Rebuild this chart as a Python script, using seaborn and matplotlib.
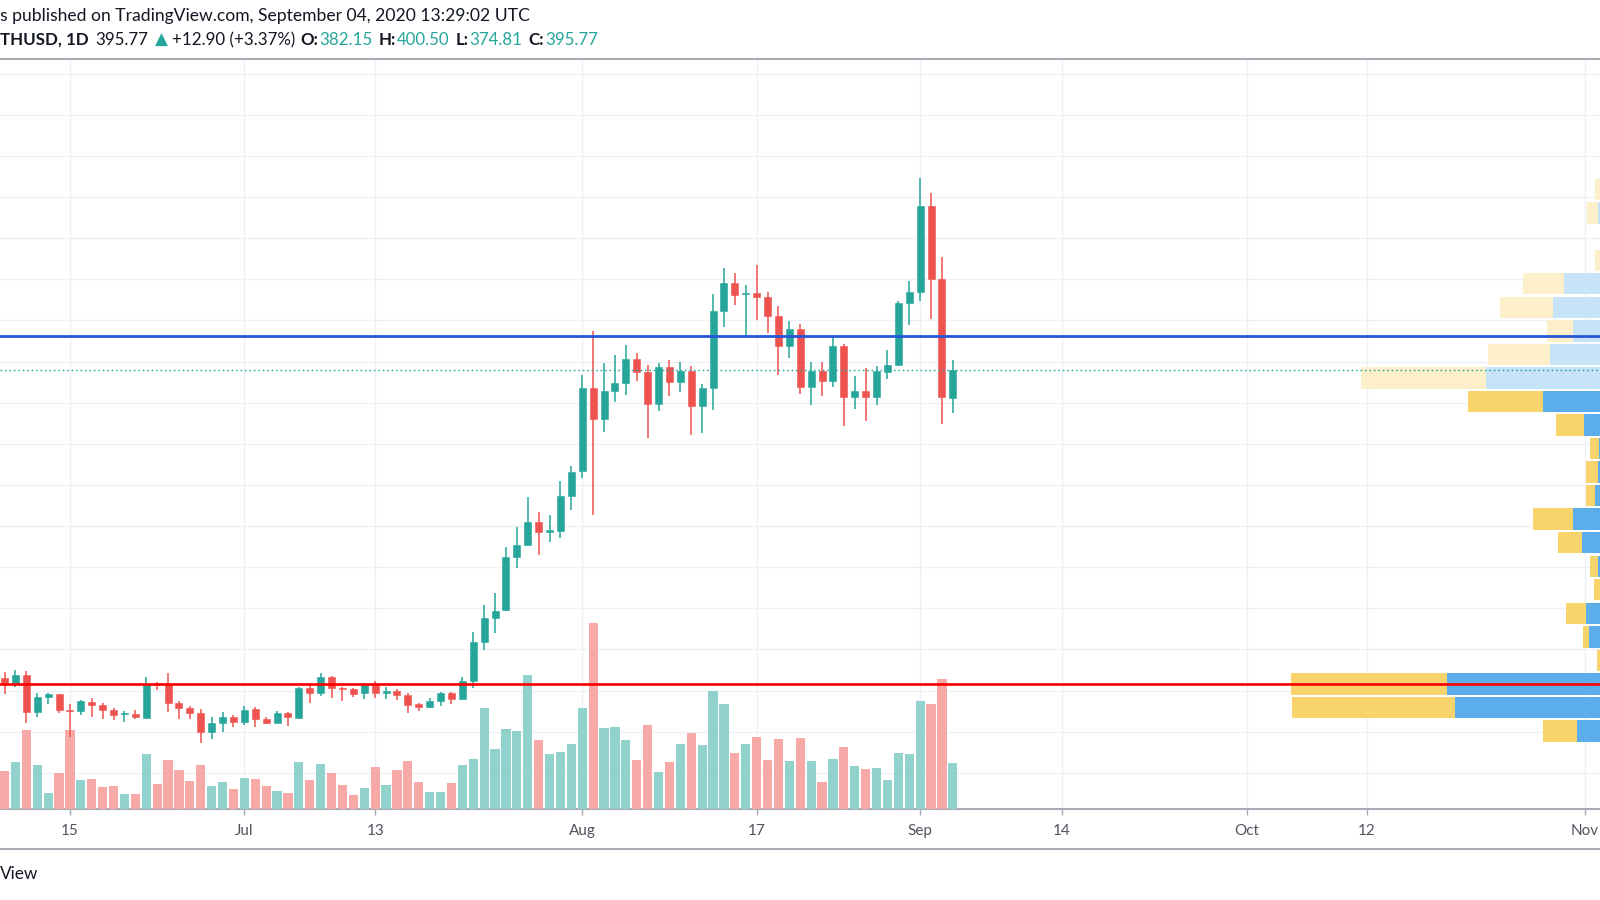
import numpy as np
import pandas as pd
import matplotlib
matplotlib.use("Agg")
import matplotlib.pyplot as plt
from matplotlib.lines import Line2D
import seaborn as sns

# ---------------- data ----------------
dates = pd.date_range("2020-06-09", "2020-09-04", freq="D")

opens = [245.9, 243.1, 247.8, 229.5, 237.0, 238.1, 230.3, 230.2, 234.6, 232.9, 230.5, 228.6, 228.6, 226.6, 243.5, 242.7, 234.1, 231.3, 229.2, 220.0, 224.3, 227.3,
         224.8, 230.8, 226.1, 224.3, 228.9, 226.8, 241.0, 238.6, 246.7, 241.4, 240.6, 238.6, 243.0, 238.6, 239.9, 237.8, 233.3, 231.8, 235.0, 238.6, 235.7, 244.8, 263.4, 275.1, 279.1, 305.1, 310.8, 321.8, 317.2, 317.6, 334.7,
         346.8, 387.3, 372.0, 385.7, 389.6, 401.1, 395.1, 379.5, 397.2, 390.1, 395.4, 378.5, 387.0, 424.6, 438.2, 432.6, 433.5, 431.2, 422.0, 407.3, 415.6, 387.7, 395.2, 390.5, 407.3, 382.6, 385.8, 382.6, 394.8, 398.2, 428.6,
         433.6, 475.7, 440.1, 382.15]
highs = [249.2, 250.0, 249.6, 238.9, 238.6, 238.4, 233.3, 235.4, 236.2, 234.1, 231.3, 230.0, 230.5, 246.7, 244.3, 248.7, 234.9, 232.6, 230.8, 227.3, 229.5, 228.1,
         232.4, 231.8, 227.3, 230.2, 229.7, 241.5, 243.5, 248.3, 247.0, 241.5, 241.4, 243.5, 244.8, 241.5, 240.7, 238.9, 234.1, 236.2, 239.4, 239.4, 246.4, 268.6, 281.6, 287.2, 309.6, 319.3, 333.9, 326.9, 325.3, 342.0, 349.2,
         393.4, 414.9, 399.5, 403.4, 407.8, 403.9, 398.1, 399.5, 400.7, 399.9, 397.6, 389.3, 432.6, 445.3, 443.2, 437.0, 447.1, 433.8, 427.0, 419.5, 418.4, 399.6, 399.6, 411.8, 408.7, 393.1, 396.8, 397.8, 405.7, 429.6, 439.1,
         489.3, 481.8, 450.8, 400.50]
lows = [238.1, 241.5, 224.3, 227.3, 233.4, 229.2, 217.2, 228.1, 227.3, 226.4, 225.6, 224.8, 226.0, 226.3, 240.2, 229.7, 226.0, 226.4, 214.6, 216.4, 220.0, 222.1,
        223.2, 222.1, 223.7, 224.0, 222.7, 226.4, 234.1, 237.3, 236.2, 235.0, 237.0, 235.9, 236.2, 235.9, 235.4, 229.2, 230.2, 231.3, 232.4, 233.3, 235.4, 241.0, 259.7, 267.8, 278.8, 299.4, 310.8, 305.9, 312.4, 314.0, 327.8,
        343.2, 325.3, 365.9, 380.1, 383.6, 390.5, 362.7, 376.0, 383.4, 385.2, 364.5, 365.0, 376.4, 417.0, 427.6, 412.2, 420.2, 414.0, 393.5, 401.6, 384.4, 379.0, 383.0, 387.5, 368.8, 376.9, 370.9, 379.0, 391.7, 397.8, 417.8,
        429.6, 420.5, 369.5, 374.81]
closes = [243.1, 247.8, 229.5, 237.0, 238.1, 230.3, 230.0, 234.9, 232.8, 230.3, 227.9, 229.2, 227.0, 242.7, 242.7, 234.1, 231.3, 228.9, 220.0, 224.3, 227.3, 224.8,
          230.5, 226.0, 224.3, 228.9, 227.0, 241.0, 238.6, 246.7, 241.4, 240.6, 238.3, 242.7, 238.9, 239.9, 237.6, 232.9, 231.8, 235.0, 238.6, 235.7, 244.6, 263.4, 275.1, 278.8, 305.1, 310.8, 321.8, 317.2, 317.6, 334.7, 346.4,
          387.3, 372.0, 385.8, 389.6, 401.1, 395.1, 379.5, 397.2, 390.1, 395.4, 378.5, 387.0, 424.6, 438.2, 432.2, 433.5, 431.2, 422.0, 407.3, 415.8, 387.7, 395.2, 390.5, 407.3, 382.6, 385.8, 382.6, 395.2, 398.2, 428.6, 433.6,
          475.7, 440.1, 382.6, 395.77]
volumes = [37.7, 47, 79.3, 44.3, 16, 36, 79.3, 29.3, 30, 22, 22.7, 15.3, 15.3, 55, 25.3, 48.7, 38.7, 28, 43.7, 23.3, 27, 19.7,
           30.7, 30, 23.3, 17.7, 16, 47, 28.7, 45, 36, 24.3, 13.7, 21, 41.7, 23.7, 39, 47.7, 26.7, 17, 17, 26, 44.3, 50.5, 101, 59.7, 80, 78.3, 134.3, 69, 55, 57.3, 65,
           100.7, 186.3, 80.7, 82.3, 68.6, 49, 84.1, 36.6, 47.5, 64.9, 75.8, 63.8, 117.9, 104.8, 56.2, 64.9, 72.5, 49, 69.6, 48, 71.3, 48, 27, 50.5, 62.1, 43.1, 40.2, 41, 29.4, 56.3, 55.5,
           108.5, 104.8, 130.5, 45.6]

# visible-range volume profile: 24 rows from bottom to top
vp_low = 214.6
vp_row = 11.446
vp_up = [123, 245, 253, 97, 111, 114, 99, 102, 118, 127, 105, 102, 101, 116, 157,
         214, 150, 127, 147, 136, 97, 40, 102, 100]
vp_down = [34, 163, 156, 6, 6, 20, 7, 8, 24, 40, 9, 12, 9, 28, 75,
           125, 62, 26, 53, 41, 8, 20, 11, 5]
vp_value_area = [1] * 15 + [0] * 9

resistance = 412.3
support = 243.0
last_price = 395.77

tick_dates = ["2020-06-15", "2020-07-01", "2020-07-13", "2020-08-01", "2020-08-17",
              "2020-09-01", "2020-09-14", "2020-10-01", "2020-10-12", "2020-11-01"]
tick_labels = ["15", "Jul", "13", "Aug", "17", "Sep", "14", "Oct", "12", "Nov"]

# ---------------- styling ----------------
sns.set_theme(style="white")
plt.rcParams["font.family"] = ["Lato", "DejaVu Sans"]

UP = "#26a69a"
DOWN = "#ef5350"
UP_V = "#92d2cc"
DOWN_V = "#f7a9a7"
GRID = "#eef0f6"
FRAME = "#a8abb3"
TXT = "#131722"

W, H = 1600, 900
fig = plt.figure(figsize=(16, 9), dpi=100)
fig.patch.set_facecolor("white")
top_px, bot_px = 59, 809
rect = [0, (H - bot_px) / H, 1, (bot_px - top_px) / H]

ref = pd.Timestamp("2020-06-15")
x = np.array([(d - ref).days for d in dates], dtype=float)
tx = [(pd.Timestamp(d) - ref).days for d in tick_dates]
XLIM = (-6.42, 140.37)
YLIM = (182.4, 547.1)

o = np.array(opens); h = np.array(highs); l = np.array(lows); c = np.array(closes)
up = c >= o

# background axis: grid + frame + ticks
ax_bg = fig.add_axes(rect)
ax_bg.set_xlim(*XLIM); ax_bg.set_ylim(*YLIM)
ax_bg.set_xticks(tx)
ax_bg.set_xticklabels(tick_labels)
ax_bg.set_yticks(np.arange(200, 541, 20))
ax_bg.grid(True, color=GRID, lw=1.0)
ax_bg.tick_params(axis="y", left=False, labelleft=False)
ax_bg.tick_params(axis="x", bottom=True, length=4, width=1.0, color=FRAME,
                  labelsize=11, labelcolor="#50535e", pad=7)
for s in ["left", "right"]:
    ax_bg.spines[s].set_visible(False)
for s in ["top", "bottom"]:
    ax_bg.spines[s].set_color(FRAME)
    ax_bg.spines[s].set_linewidth(1.5)

# volume profile axis
ax_vp = fig.add_axes(rect)
ax_vp.patch.set_visible(False)
ax_vp.set_xlim(1700, 100)
ax_vp.set_ylim(*YLIM)
centers = vp_low + (np.arange(len(vp_up)) + 0.5) * vp_row
for i, yc in enumerate(centers):
    dark = vp_value_area[i] == 1
    ax_vp.barh(yc, vp_up[i], left=0, height=vp_row * 0.91,
               color="#5caeea" if dark else "#c6e3f7", edgecolor="none")
    ax_vp.barh(yc, vp_down[i], left=vp_up[i], height=vp_row * 0.91,
               color="#f9d36b" if dark else "#fdefca", edgecolor="none")
ax_vp.axis("off")

# volume axis
ax_vol = fig.add_axes(rect)
ax_vol.patch.set_visible(False)
ax_vol.set_xlim(*XLIM)
ax_vol.set_ylim(0, 750)
ax_vol.bar(x, volumes, width=0.84, color=np.where(up, UP_V, DOWN_V), edgecolor="none")
ax_vol.axis("off")

# price axis
ax = fig.add_axes(rect)
ax.patch.set_visible(False)
ax.set_xlim(*XLIM); ax.set_ylim(*YLIM)
cols = np.where(up, UP, DOWN)
ax.vlines(x, l, h, colors=cols, lw=1.1, zorder=2)
body_lo = np.minimum(o, c)
body_h = np.maximum(np.abs(c - o), 0.7)
ax.bar(x, body_h, bottom=body_lo, width=0.64, color=cols, edgecolor=cols, lw=0.4, zorder=3)
ax.axhline(last_price, color=UP, lw=1.0, linestyle=(0, (1.2, 2.0)), zorder=4)
ax.axhline(resistance, color="#2456d8", lw=2.0, zorder=5)
ax.axhline(support, color="#ff0000", lw=1.9, zorder=5)
ax.axis("off")

# bottom frame line
fig.add_artist(Line2D([0, 1], [1 - 849 / H, 1 - 849 / H], color=FRAME, lw=1.5))

# ---------------- header texts ----------------
fig.text(0, 1 - 16 / H, "s published on TradingView.com, September 04, 2020 13:29:02 UTC",
         fontsize=12.6, color=TXT, va="center", ha="left")

renderer = fig.canvas.get_renderer()
pieces = [
    ("THUSD, 1D", TXT, "bold", 7),
    ("395.77", TXT, "normal", 6),
    ("\u25B2", UP, "normal", 4),
    ("+12.90 (+3.37%)", TXT, "normal", 6),
    ("O:", TXT, "bold", 1),
    ("382.15", UP, "normal", 6),
    ("H:", TXT, "bold", 1),
    ("400.50", UP, "normal", 6),
    ("L:", TXT, "bold", 1),
    ("374.81", UP, "normal", 6),
    ("C:", TXT, "bold", 1),
    ("395.77", UP, "normal", 0),
]
xp = 0.0
for txt, col, wt, gap in pieces:
    t = fig.text(xp / W, 1 - 40 / H, txt, fontsize=12.2, color=col, fontweight=wt,
                 va="center", ha="left")
    bb = t.get_window_extent(renderer=renderer)
    xp = bb.x1 + gap

fig.text(0, 1 - 874 / H, "View", fontsize=12.4, color=TXT, va="center", ha="left")

fig.savefig("out.png", dpi=100, facecolor="white")
